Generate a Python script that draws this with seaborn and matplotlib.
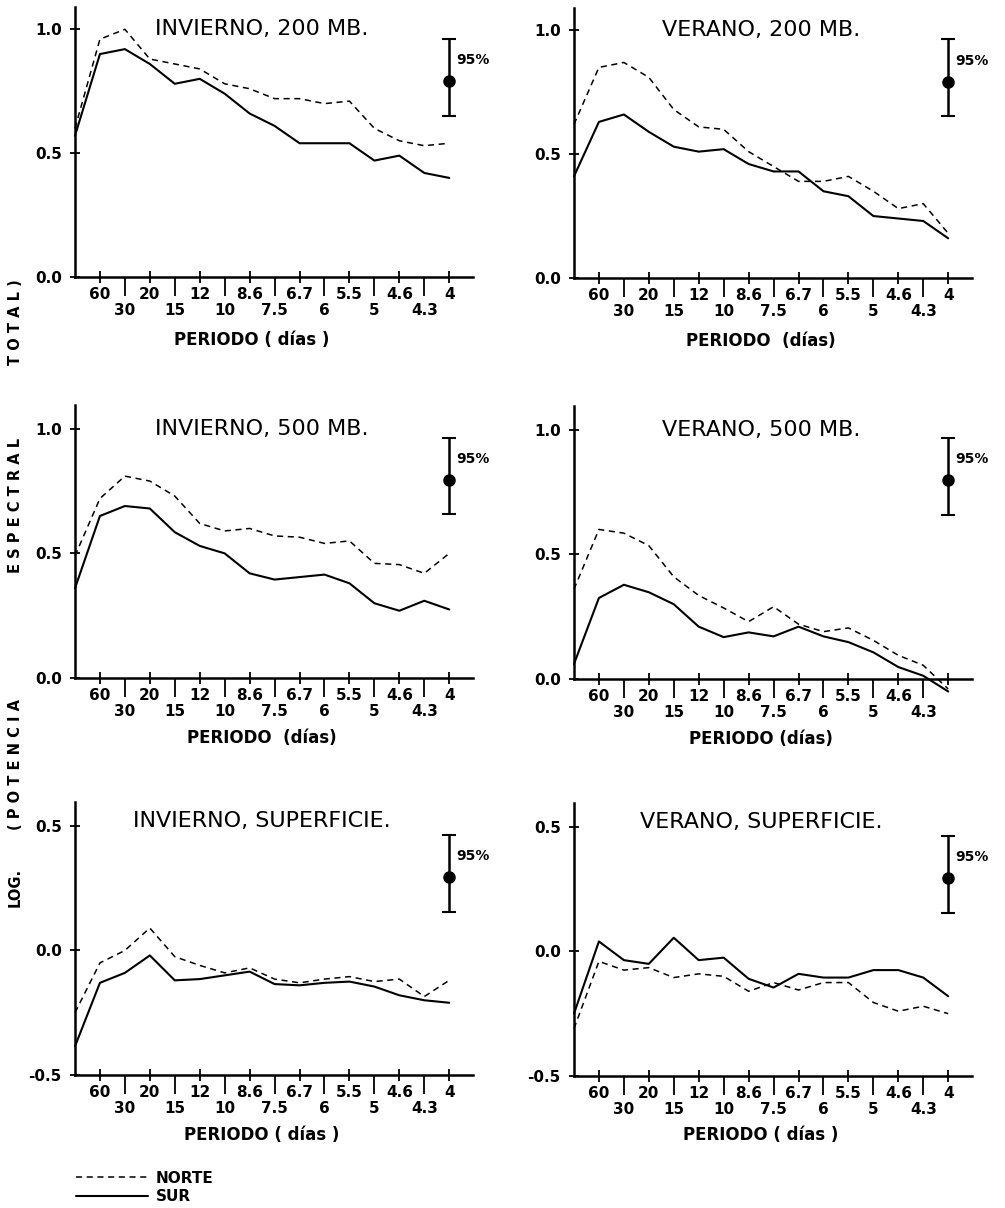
import numpy as np
import matplotlib
matplotlib.use("Agg")
import matplotlib.pyplot as plt
import pandas as pd
import seaborn as sns

# harmonic index (0 = mean) and the periods (days) written under the axis
armonico = list(range(16))
etiq_sup = ["60", "20", "12", "8.6", "6.7", "5.5", "4.6", "4"]      # odd harmonics
etiq_inf = ["30", "15", "10", "7.5", "6", "5", "4.3"]               # even harmonics

titulos = ["INVIERNO, 200 MB.", "VERANO, 200 MB.",
           "INVIERNO, 500 MB.", "VERANO, 500 MB.",
           "INVIERNO, SUPERFICIE.", "VERANO, SUPERFICIE."]
xlabels = ["PERIODO ( días )", "PERIODO  (días)",
           "PERIODO  (días)", "PERIODO (días)",
           "PERIODO ( días )", "PERIODO ( días )"]

inv200_norte = [0.60, 0.96, 1.00, 0.88, 0.86, 0.84, 0.78, 0.76, 0.72, 0.72, 0.70, 0.71, 0.60, 0.55, 0.53, 0.54]
inv200_sur = [0.57, 0.90, 0.92, 0.86, 0.78, 0.80, 0.74, 0.66, 0.61, 0.54, 0.54, 0.54, 0.47, 0.49, 0.42, 0.40]
ver200_norte = [0.62, 0.85, 0.87, 0.81, 0.68, 0.61, 0.60, 0.51, 0.45, 0.39, 0.39, 0.41, 0.35, 0.28, 0.30, 0.18]
ver200_sur = [0.41, 0.63, 0.66, 0.59, 0.53, 0.51, 0.52, 0.46, 0.43, 0.43, 0.35, 0.33, 0.25, 0.24, 0.23, 0.16]
inv500_norte = [0.49, 0.72, 0.81, 0.79, 0.73, 0.62, 0.59, 0.60, 0.57, 0.565, 0.54, 0.55, 0.46, 0.455, 0.42, 0.50]
inv500_sur = [0.36, 0.65, 0.69, 0.68, 0.585, 0.53, 0.50, 0.42, 0.395, 0.405, 0.415, 0.38, 0.30, 0.27, 0.31, 0.275]
ver500_norte = [0.36, 0.60, 0.585, 0.535, 0.41, 0.335, 0.285, 0.23, 0.29, 0.22, 0.19, 0.205, 0.155, 0.095, 0.055, -0.04]
ver500_sur = [0.06, 0.325, 0.378, 0.348, 0.30, 0.21, 0.168, 0.187, 0.171, 0.21, 0.171, 0.148, 0.107, 0.048, 0.013, -0.05]
invsup_norte = [-0.25, -0.05, 0.00, 0.09, -0.025, -0.06, -0.09, -0.07, -0.115, -0.13, -0.115, -0.105, -0.125, -0.115, -0.185, -0.12]
invsup_sur = [-0.385, -0.13, -0.09, -0.02, -0.12, -0.115, -0.10, -0.085, -0.135, -0.14, -0.13, -0.125, -0.145, -0.18, -0.20, -0.21]
versup_norte = [-0.31, -0.04, -0.075, -0.065, -0.105, -0.09, -0.10, -0.16, -0.125, -0.155, -0.125, -0.125, -0.205, -0.24, -0.22, -0.25]
versup_sur = [-0.25, 0.04, -0.035, -0.05, 0.055, -0.035, -0.025, -0.11, -0.145, -0.09, -0.105, -0.105, -0.075, -0.075, -0.105, -0.18]

# 95% confidence bar of each panel
ci_centro = [0.79, 0.79, 0.795, 0.80, 0.293, 0.295]
ci_inf = [0.65, 0.652, 0.656, 0.656, 0.156, 0.154]
ci_sup = [0.96, 0.965, 0.964, 0.967, 0.465, 0.465]

norte = [inv200_norte, ver200_norte, inv500_norte, ver500_norte, invsup_norte, versup_norte]
sur = [inv200_sur, ver200_sur, inv500_sur, ver500_sur, invsup_sur, versup_sur]

rows = []
for p in range(6):
    for k, v in zip(armonico, norte[p]):
        rows.append((p, k, v, "NORTE"))
    for k, v in zip(armonico, sur[p]):
        rows.append((p, k, v, "SUR"))
df = pd.DataFrame(rows, columns=["panel", "armonico", "valor", "serie"])

sns.set_style("ticks")
plt.rcParams["font.family"] = ["DejaVu Sans"]
for key in ["text.color", "axes.labelcolor", "xtick.color", "ytick.color", "axes.edgecolor"]:
    plt.rcParams[key] = "black"

fig = plt.figure(figsize=(10.05, 12.08), dpi=100)

pos = [(0.0746, 0.7707, 0.396, 0.2235), (0.5711, 0.7699, 0.396, 0.2235),
       (0.0746, 0.4387, 0.396, 0.2260), (0.5711, 0.4379, 0.396, 0.2260),
       (0.0746, 0.1101, 0.396, 0.2260), (0.5711, 0.1093, 0.396, 0.2260)]
ylims = [(0, 1.09), (0, 1.09), (0, 1.095), (0, 1.095), (-0.5, 0.596), (-0.5, 0.596)]

odd = armonico[1::2]
even = armonico[2::2]

for p in range(6):
    ax = fig.add_axes(pos[p])
    sub = df[df.panel == p]
    n = sub[sub.serie == "NORTE"]
    s = sub[sub.serie == "SUR"]
    sns.lineplot(x=n.armonico, y=n.valor, color="black", lw=1.1,
                 linestyle=(0, (4, 3)), ax=ax, label="NORTE", clip_on=False)
    sns.lineplot(x=s.armonico, y=s.valor, color="black", lw=1.5, ax=ax,
                 label="SUR", clip_on=False)
    ax.get_legend().remove()

    # confidence bar at the last harmonic
    xc = armonico[-1]
    ax.errorbar([xc], [ci_centro[p]],
                yerr=[[ci_centro[p] - ci_inf[p]], [ci_sup[p] - ci_centro[p]]],
                fmt="o", color="black", ms=8, elinewidth=1.8, capsize=5, capthick=1.5)
    ax.annotate("95%", xy=(xc, (ci_sup[p] + ci_centro[p]) / 2), xytext=(5, 0),
                textcoords="offset points", ha="left", va="center",
                fontsize=10, fontweight="bold")

    ax.set_xlim(0, 15.95)
    ax.set_ylim(*ylims[p])
    lo = ylims[p][0]
    yt = [lo, lo + 0.5, lo + 1.0]
    ax.set_yticks(yt)
    ax.set_yticklabels([f"{v:.1f}" for v in yt], fontsize=11, fontweight="bold")

    ax.set_xticks(odd)
    sup = list(etiq_sup)
    if p == 3:
        sup[-1] = ""
    ax.set_xticklabels(sup, fontsize=11, fontweight="bold")
    ax.set_xticks(even, minor=True)
    ax.set_xticklabels(etiq_inf, minor=True, fontsize=11, fontweight="bold")
    ax.tick_params(axis="x", which="major", direction="inout", length=8, width=1.3, pad=3)
    ax.tick_params(axis="x", which="minor", direction="out", length=14, width=1.3, pad=5)
    ax.tick_params(axis="y", direction="inout", length=7, width=1.3, pad=6)

    for side in ["top", "right"]:
        ax.spines[side].set_visible(False)
    for side in ["left", "bottom"]:
        ax.spines[side].set_linewidth(1.8)

    ax.set_ylabel("")
    ax.set_xlabel(xlabels[p], fontsize=12, fontweight="bold")
    ax.xaxis.set_label_coords(0.445 if p == 0 else 0.47, -0.2 if p < 2 else -0.185)

    ytit = 1.0 if p < 4 else 0.52
    ax.text(7.5, ytit, titulos[p], ha="center", va="center", fontsize=16)

    if p == 5:
        handles, labels = ax.get_legend_handles_labels()

# shared vertical label, spread out as in the original
piezas = [("LOG.", 887), ("( P O T E N C I A", 765), ("E S P E C T R A L", 505), ("T O T A L )", 322)]
for txt, ypx in piezas:
    fig.text(0.015, 1 - ypx / 1208, txt, rotation=90, ha="center", va="center",
             fontsize=10.5, fontweight="bold")

fig.legend(handles[:2], labels[:2], loc="upper left", bbox_to_anchor=(0.068, 1 - 1163 / 1208),
           frameon=False, handlelength=4.7, handletextpad=0.5, labelspacing=0.25,
           borderpad=0, prop={"weight": "bold", "size": 11})

fig.savefig("out.png", dpi=100)
